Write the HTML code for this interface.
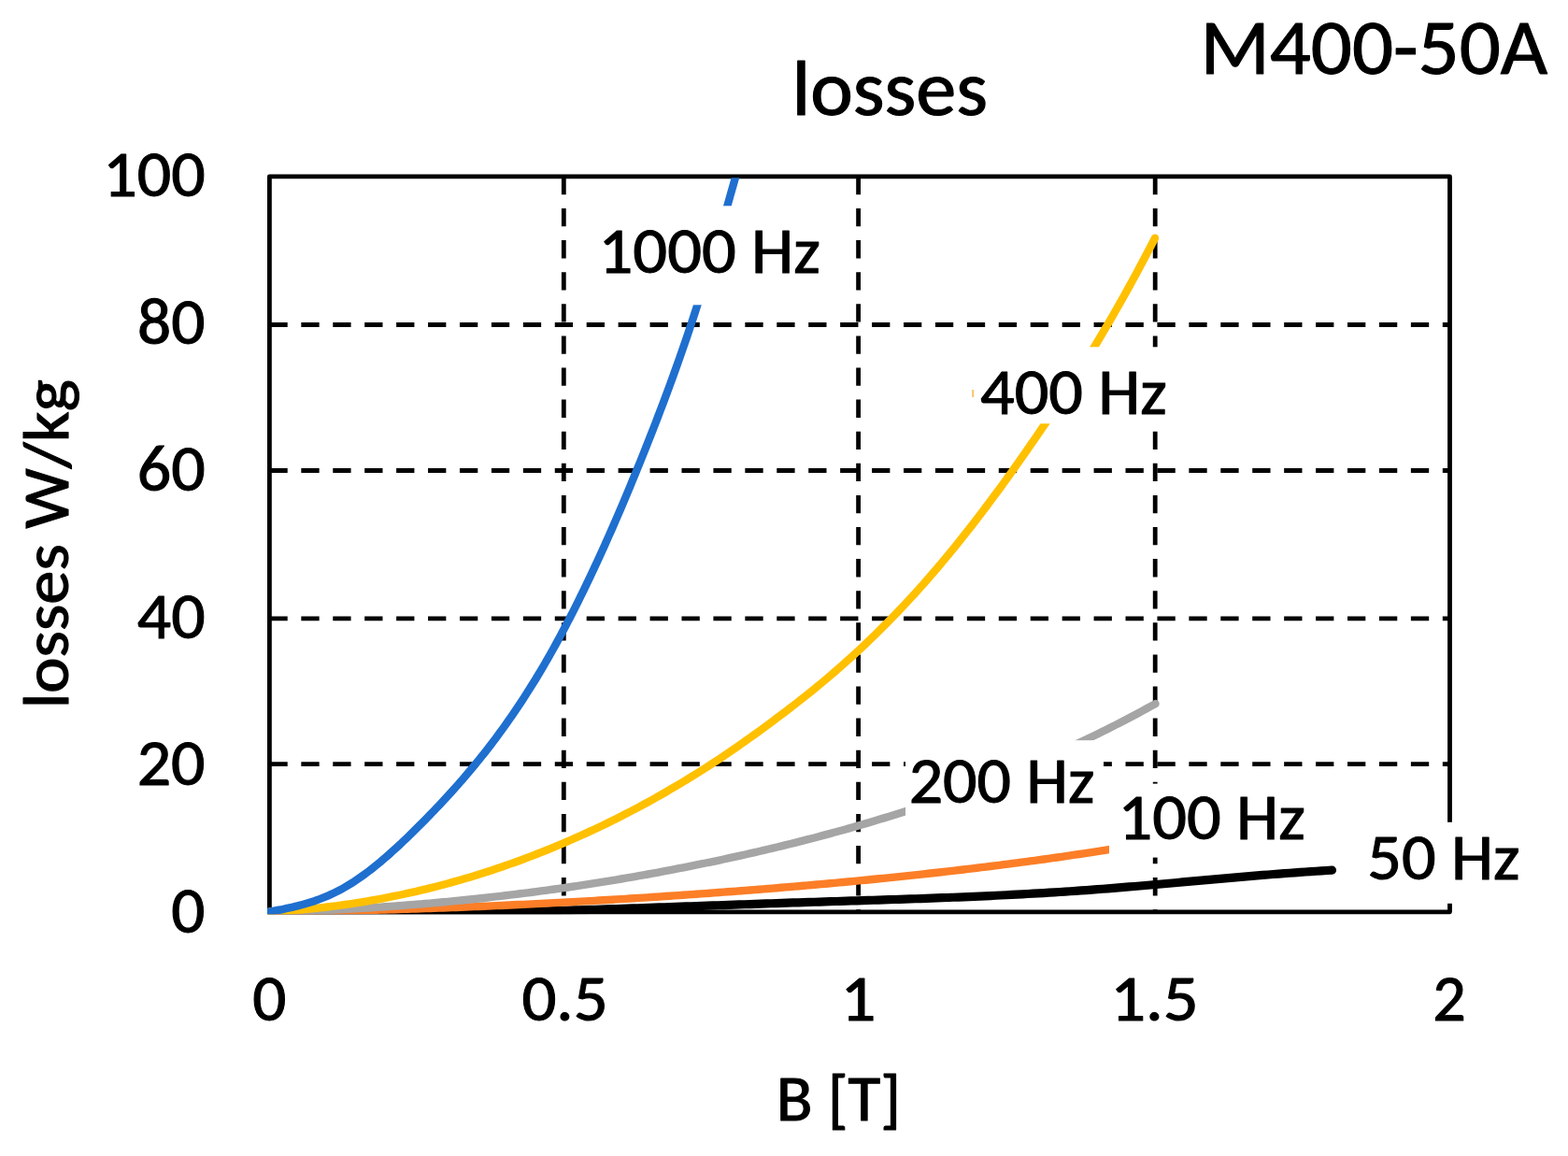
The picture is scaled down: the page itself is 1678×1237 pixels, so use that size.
<!DOCTYPE html>
<html><head><meta charset="utf-8"><title>losses</title>
<style>
html,body{margin:0;padding:0;background:#fff;width:1678px;height:1237px;overflow:hidden}
svg{display:block}
text{font-family:Carlito, "Liberation Sans", sans-serif;fill:#000;stroke:#000;stroke-width:1.1px;stroke-linejoin:round}
.g{stroke:#000;stroke-width:4.8;stroke-dasharray:19.3 14.63;fill:none}
.gv{stroke-dasharray:19.3 14.8}
</style></head><body>
<svg width="1678" height="1237" viewBox="0 0 1678 1237">
<defs><clipPath id="pa"><rect x="286" y="190.2" width="1270" height="788.1"/></clipPath></defs>
<rect width="1678" height="1237" fill="#fff"/>
<line x1="288.4" y1="817.6" x2="1551.5" y2="817.6" class="g"/>
<line x1="288.4" y1="661.9" x2="1551.5" y2="661.9" class="g"/>
<line x1="288.4" y1="503.5" x2="1551.5" y2="503.5" class="g"/>
<line x1="288.4" y1="347.5" x2="1551.5" y2="347.5" class="g"/>
<line x1="603.3" y1="188.9" x2="603.3" y2="975.8" class="g gv"/>
<line x1="918.6" y1="188.9" x2="918.6" y2="975.8" class="g gv"/>
<line x1="1236.2" y1="188.9" x2="1236.2" y2="975.8" class="g gv"/>
<rect x="288.4" y="188.9" width="1263.1" height="786.9" fill="none" stroke="#000" stroke-width="4.8" stroke-linejoin="round"/>
<g clip-path="url(#pa)" fill="none" stroke-width="8.6" stroke-linecap="round" stroke-linejoin="round">
<path d="M288.40,975.80 L294.11,975.80 L299.83,975.80 L305.54,975.80 L311.26,975.80 L316.97,975.80 L322.68,975.80 L328.40,975.80 L334.11,975.80 L339.83,975.80 L345.54,975.80 L351.25,975.80 L356.97,975.80 L362.68,975.80 L368.40,975.80 L374.11,975.80 L379.83,975.80 L385.54,975.80 L391.25,975.80 L396.97,975.80 L402.68,975.80 L408.40,975.80 L414.11,975.80 L419.82,975.80 L425.54,975.80 L431.25,975.80 L436.97,975.80 L442.68,975.80 L448.39,975.80 L454.11,975.80 L459.82,975.80 L465.54,975.80 L471.25,975.80 L476.96,975.80 L482.68,975.80 L488.39,975.80 L494.11,975.80 L499.82,975.80 L505.53,975.80 L511.25,975.80 L516.96,975.80 L522.68,975.80 L528.39,975.80 L534.11,975.80 L539.82,975.80 L545.53,975.72 L551.25,975.59 L556.96,975.46 L562.68,975.32 L568.39,975.18 L574.10,975.03 L579.82,974.89 L585.53,974.73 L591.25,974.58 L596.96,974.42 L602.67,974.26 L608.39,974.10 L614.10,973.93 L619.82,973.76 L625.53,973.59 L631.24,973.41 L636.96,973.24 L642.67,973.06 L648.39,972.88 L654.10,972.69 L659.81,972.51 L665.53,972.32 L671.24,972.13 L676.96,971.94 L682.67,971.75 L688.38,971.55 L694.10,971.36 L699.81,971.16 L705.53,970.96 L711.24,970.76 L716.96,970.57 L722.67,970.37 L728.38,970.16 L734.10,969.96 L739.81,969.76 L745.53,969.56 L751.24,969.36 L756.95,969.15 L762.67,968.95 L768.38,968.75 L774.10,968.54 L779.81,968.34 L785.52,968.14 L791.24,967.94 L796.95,967.74 L802.67,967.54 L808.38,967.34 L814.09,967.14 L819.81,966.94 L825.52,966.75 L831.24,966.55 L836.95,966.36 L842.66,966.17 L848.38,965.97 L854.09,965.79 L859.81,965.60 L865.52,965.41 L871.24,965.23 L876.95,965.05 L882.66,964.87 L888.38,964.69 L894.09,964.51 L899.81,964.33 L905.52,964.15 L911.23,963.97 L916.95,963.79 L922.66,963.61 L928.38,963.43 L934.09,963.25 L939.80,963.07 L945.52,962.88 L951.23,962.70 L956.95,962.51 L962.66,962.32 L968.37,962.13 L974.09,961.94 L979.80,961.74 L985.52,961.54 L991.23,961.33 L996.94,961.13 L1002.66,960.92 L1008.37,960.70 L1014.09,960.48 L1019.80,960.26 L1025.52,960.03 L1031.23,959.80 L1036.94,959.56 L1042.66,959.32 L1048.37,959.07 L1054.09,958.81 L1059.80,958.55 L1065.51,958.28 L1071.23,958.01 L1076.94,957.73 L1082.66,957.44 L1088.37,957.15 L1094.08,956.84 L1099.80,956.53 L1105.51,956.21 L1111.23,955.89 L1116.94,955.55 L1122.65,955.21 L1128.37,954.86 L1134.08,954.49 L1139.80,954.12 L1145.51,953.74 L1151.22,953.35 L1156.94,952.95 L1162.65,952.54 L1168.37,952.12 L1174.08,951.69 L1179.79,951.25 L1185.51,950.80 L1191.22,950.34 L1196.94,949.88 L1202.65,949.41 L1208.37,948.94 L1214.08,948.46 L1219.79,947.97 L1225.51,947.48 L1231.22,946.98 L1236.94,946.48 L1242.65,945.98 L1248.36,945.47 L1254.08,944.97 L1259.79,944.46 L1265.51,943.95 L1271.22,943.43 L1276.93,942.92 L1282.65,942.41 L1288.36,941.90 L1294.08,941.39 L1299.79,940.88 L1305.50,940.37 L1311.22,939.87 L1316.93,939.37 L1322.65,938.87 L1328.36,938.38 L1334.07,937.89 L1339.79,937.40 L1345.50,936.93 L1351.22,936.45 L1356.93,935.99 L1362.65,935.53 L1368.36,935.09 L1374.07,934.65 L1379.79,934.22 L1385.50,933.80 L1391.22,933.39 L1396.93,932.99 L1402.64,932.60 L1408.36,932.23 L1414.07,931.87 L1419.79,931.52 L1425.50,931.19" stroke="#000000" stroke-width="9.2"/>
<path d="M288.40,975.80 L293.16,975.75 L297.92,975.70 L302.69,975.64 L307.45,975.58 L312.21,975.52 L316.97,975.46 L321.73,975.39 L326.49,975.31 L331.26,975.24 L336.02,975.16 L340.78,975.08 L345.54,974.99 L350.30,974.90 L355.07,974.81 L359.83,974.71 L364.59,974.62 L369.35,974.51 L374.11,974.41 L378.87,974.30 L383.64,974.19 L388.40,974.07 L393.16,973.96 L397.92,973.83 L402.68,973.71 L407.45,973.58 L412.21,973.45 L416.97,973.32 L421.73,973.18 L426.49,973.04 L431.25,972.90 L436.02,972.75 L440.78,972.60 L445.54,972.45 L450.30,972.29 L455.06,972.13 L459.83,971.97 L464.59,971.80 L469.35,971.63 L474.11,971.46 L478.87,971.29 L483.63,971.11 L488.40,970.93 L493.16,970.74 L497.92,970.56 L502.68,970.37 L507.44,970.17 L512.21,969.98 L516.97,969.78 L521.73,969.58 L526.49,969.37 L531.25,969.16 L536.01,968.95 L540.78,968.74 L545.54,968.52 L550.30,968.30 L555.06,968.07 L559.82,967.85 L564.58,967.62 L569.35,967.39 L574.11,967.15 L578.87,966.91 L583.63,966.67 L588.39,966.43 L593.16,966.18 L597.92,965.93 L602.68,965.68 L607.44,965.42 L612.20,965.16 L616.96,964.90 L621.73,964.63 L626.49,964.37 L631.25,964.10 L636.01,963.82 L640.77,963.55 L645.54,963.27 L650.30,962.99 L655.06,962.70 L659.82,962.41 L664.58,962.12 L669.34,961.83 L674.11,961.53 L678.87,961.23 L683.63,960.93 L688.39,960.63 L693.15,960.32 L697.92,960.01 L702.68,959.70 L707.44,959.38 L712.20,959.06 L716.96,958.74 L721.72,958.42 L726.49,958.09 L731.25,957.76 L736.01,957.43 L740.77,957.09 L745.53,956.75 L750.30,956.41 L755.06,956.07 L759.82,955.72 L764.58,955.37 L769.34,955.02 L774.10,954.67 L778.87,954.31 L783.63,953.95 L788.39,953.59 L793.15,953.22 L797.91,952.86 L802.68,952.48 L807.44,952.11 L812.20,951.73 L816.96,951.35 L821.72,950.97 L826.48,950.59 L831.25,950.20 L836.01,949.81 L840.77,949.41 L845.53,949.01 L850.29,948.61 L855.06,948.20 L859.82,947.80 L864.58,947.38 L869.34,946.97 L874.10,946.55 L878.86,946.13 L883.63,945.70 L888.39,945.27 L893.15,944.84 L897.91,944.40 L902.67,943.96 L907.44,943.52 L912.20,943.07 L916.96,942.61 L921.72,942.16 L926.48,941.70 L931.24,941.23 L936.01,940.76 L940.77,940.29 L945.53,939.81 L950.29,939.33 L955.05,938.85 L959.82,938.36 L964.58,937.86 L969.34,937.36 L974.10,936.86 L978.86,936.35 L983.62,935.84 L988.39,935.32 L993.15,934.80 L997.91,934.28 L1002.67,933.75 L1007.43,933.21 L1012.19,932.67 L1016.96,932.13 L1021.72,931.58 L1026.48,931.02 L1031.24,930.46 L1036.00,929.90 L1040.77,929.33 L1045.53,928.75 L1050.29,928.17 L1055.05,927.58 L1059.81,926.99 L1064.57,926.40 L1069.34,925.80 L1074.10,925.19 L1078.86,924.58 L1083.62,923.96 L1088.38,923.34 L1093.15,922.71 L1097.91,922.07 L1102.67,921.43 L1107.43,920.79 L1112.19,920.13 L1116.95,919.48 L1121.72,918.81 L1126.48,918.14 L1131.24,917.47 L1136.00,916.79 L1140.76,916.10 L1145.53,915.41 L1150.29,914.71 L1155.05,914.00 L1159.81,913.29 L1164.57,912.58 L1169.33,911.85 L1174.10,911.12 L1178.86,910.38 L1183.62,909.64 L1188.38,908.89 L1193.14,908.14 L1197.91,907.37 L1202.67,906.60 L1207.43,905.83 L1212.19,905.05 L1216.95,904.26 L1221.71,903.46 L1226.48,902.66 L1231.24,901.85 L1236.00,901.03" stroke="#FC7E27" stroke-width="8.4"/>
<path d="M288.40,975.80 L293.16,975.69 L297.93,975.58 L302.69,975.46 L307.46,975.32 L312.22,975.18 L316.99,975.03 L321.75,974.88 L326.51,974.71 L331.28,974.54 L336.04,974.35 L340.81,974.16 L345.57,973.96 L350.34,973.75 L355.10,973.54 L359.86,973.31 L364.63,973.08 L369.39,972.83 L374.16,972.58 L378.92,972.32 L383.69,972.05 L388.45,971.78 L393.22,971.49 L397.98,971.20 L402.74,970.89 L407.51,970.58 L412.27,970.26 L417.04,969.93 L421.80,969.59 L426.57,969.25 L431.33,968.89 L436.09,968.53 L440.86,968.15 L445.62,967.77 L450.39,967.38 L455.15,966.98 L459.92,966.57 L464.68,966.16 L469.44,965.73 L474.21,965.29 L478.97,964.85 L483.74,964.40 L488.50,963.94 L493.27,963.47 L498.03,962.99 L502.79,962.50 L507.56,962.00 L512.32,961.50 L517.09,960.98 L521.85,960.46 L526.62,959.92 L531.38,959.38 L536.14,958.83 L540.91,958.27 L545.67,957.70 L550.44,957.12 L555.20,956.53 L559.97,955.94 L564.73,955.33 L569.49,954.72 L574.26,954.09 L579.02,953.46 L583.79,952.82 L588.55,952.17 L593.32,951.51 L598.08,950.84 L602.85,950.16 L607.61,949.47 L612.37,948.77 L617.14,948.07 L621.90,947.35 L626.67,946.63 L631.43,945.89 L636.20,945.15 L640.96,944.40 L645.72,943.64 L650.49,942.86 L655.25,942.08 L660.02,941.29 L664.78,940.49 L669.55,939.68 L674.31,938.87 L679.07,938.04 L683.84,937.20 L688.60,936.36 L693.37,935.50 L698.13,934.64 L702.90,933.76 L707.66,932.88 L712.42,931.98 L717.19,931.08 L721.95,930.17 L726.72,929.24 L731.48,928.31 L736.25,927.37 L741.01,926.42 L745.77,925.46 L750.54,924.49 L755.30,923.51 L760.07,922.52 L764.83,921.52 L769.60,920.52 L774.36,919.50 L779.13,918.47 L783.89,917.43 L788.65,916.39 L793.42,915.33 L798.18,914.26 L802.95,913.18 L807.71,912.10 L812.48,911.00 L817.24,909.89 L822.00,908.77 L826.77,907.64 L831.53,906.50 L836.30,905.34 L841.06,904.18 L845.83,903.00 L850.59,901.82 L855.35,900.62 L860.12,899.40 L864.88,898.18 L869.65,896.94 L874.41,895.70 L879.18,894.43 L883.94,893.16 L888.70,891.87 L893.47,890.57 L898.23,889.26 L903.00,887.93 L907.76,886.59 L912.53,885.24 L917.29,883.87 L922.05,882.49 L926.82,881.10 L931.58,879.69 L936.35,878.26 L941.11,876.82 L945.88,875.37 L950.64,873.90 L955.41,872.42 L960.17,870.92 L964.93,869.41 L969.70,867.88 L974.46,866.33 L979.23,864.77 L983.99,863.20 L988.76,861.61 L993.52,860.00 L998.28,858.37 L1003.05,856.73 L1007.81,855.07 L1012.58,853.40 L1017.34,851.71 L1022.11,850.00 L1026.87,848.27 L1031.63,846.53 L1036.40,844.77 L1041.16,842.99 L1045.93,841.20 L1050.69,839.38 L1055.46,837.55 L1060.22,835.70 L1064.98,833.83 L1069.75,831.94 L1074.51,830.04 L1079.28,828.11 L1084.04,826.17 L1088.81,824.21 L1093.57,822.23 L1098.33,820.22 L1103.10,818.20 L1107.86,816.16 L1112.63,814.10 L1117.39,812.02 L1122.16,809.92 L1126.92,807.80 L1131.68,805.66 L1136.45,803.49 L1141.21,801.31 L1145.98,799.11 L1150.74,796.88 L1155.51,794.64 L1160.27,792.37 L1165.04,790.08 L1169.80,787.77 L1174.56,785.44 L1179.33,783.08 L1184.09,780.71 L1188.86,778.31 L1193.62,775.88 L1198.39,773.44 L1203.15,770.97 L1207.91,768.49 L1212.68,765.97 L1217.44,763.44 L1222.21,760.88 L1226.97,758.30 L1231.74,755.69 L1236.50,753.06" stroke="#A5A5A5" stroke-width="8.4"/>
<path d="M288.40,975.80 L293.16,975.54 L297.92,975.26 L302.69,974.95 L307.45,974.62 L312.21,974.27 L316.97,973.88 L321.73,973.48 L326.49,973.05 L331.26,972.59 L336.02,972.10 L340.78,971.60 L345.54,971.06 L350.30,970.50 L355.07,969.92 L359.83,969.31 L364.59,968.67 L369.35,968.01 L374.11,967.32 L378.87,966.60 L383.64,965.86 L388.40,965.09 L393.16,964.30 L397.92,963.48 L402.68,962.63 L407.45,961.76 L412.21,960.86 L416.97,959.94 L421.73,958.98 L426.49,958.00 L431.25,957.00 L436.02,955.97 L440.78,954.91 L445.54,953.82 L450.30,952.71 L455.06,951.57 L459.83,950.40 L464.59,949.20 L469.35,947.98 L474.11,946.73 L478.87,945.45 L483.63,944.15 L488.40,942.82 L493.16,941.46 L497.92,940.07 L502.68,938.65 L507.44,937.21 L512.21,935.74 L516.97,934.24 L521.73,932.71 L526.49,931.16 L531.25,929.57 L536.01,927.96 L540.78,926.32 L545.54,924.65 L550.30,922.95 L555.06,921.23 L559.82,919.47 L564.58,917.69 L569.35,915.88 L574.11,914.04 L578.87,912.17 L583.63,910.27 L588.39,908.34 L593.16,906.39 L597.92,904.40 L602.68,902.39 L607.44,900.34 L612.20,898.27 L616.96,896.17 L621.73,894.03 L626.49,891.87 L631.25,889.68 L636.01,887.46 L640.77,885.21 L645.54,882.93 L650.30,880.62 L655.06,878.28 L659.82,875.91 L664.58,873.50 L669.34,871.07 L674.11,868.61 L678.87,866.11 L683.63,863.59 L688.39,861.03 L693.15,858.44 L697.92,855.82 L702.68,853.16 L707.44,850.47 L712.20,847.75 L716.96,844.99 L721.72,842.20 L726.49,839.38 L731.25,836.52 L736.01,833.63 L740.77,830.70 L745.53,827.74 L750.30,824.74 L755.06,821.70 L759.82,818.63 L764.58,815.53 L769.34,812.38 L774.10,809.20 L778.87,805.98 L783.63,802.73 L788.39,799.44 L793.15,796.12 L797.91,792.77 L802.68,789.39 L807.44,785.97 L812.20,782.53 L816.96,779.06 L821.72,775.56 L826.48,772.03 L831.25,768.48 L836.01,764.90 L840.77,761.29 L845.53,757.66 L850.29,753.99 L855.06,750.28 L859.82,746.54 L864.58,742.75 L869.34,738.92 L874.10,735.05 L878.86,731.13 L883.63,727.15 L888.39,723.12 L893.15,719.03 L897.91,714.89 L902.67,710.69 L907.44,706.43 L912.20,702.11 L916.96,697.74 L921.72,693.31 L926.48,688.82 L931.24,684.27 L936.01,679.67 L940.77,675.01 L945.53,670.28 L950.29,665.49 L955.05,660.64 L959.82,655.72 L964.58,650.72 L969.34,645.66 L974.10,640.52 L978.86,635.32 L983.62,630.04 L988.39,624.69 L993.15,619.27 L997.91,613.78 L1002.67,608.22 L1007.43,602.59 L1012.19,596.90 L1016.96,591.14 L1021.72,585.31 L1026.48,579.41 L1031.24,573.44 L1036.00,567.41 L1040.77,561.32 L1045.53,555.16 L1050.29,548.93 L1055.05,542.64 L1059.81,536.29 L1064.57,529.87 L1069.34,523.39 L1074.10,516.85 L1078.86,510.26 L1083.62,503.60 L1088.38,496.89 L1093.15,490.14 L1097.91,483.33 L1102.67,476.47 L1107.43,469.57 L1112.19,462.61 L1116.95,455.60 L1121.72,448.54 L1126.48,441.41 L1131.24,434.22 L1136.00,426.97 L1140.76,419.65 L1145.53,412.26 L1150.29,404.79 L1155.05,397.24 L1159.81,389.62 L1164.57,381.91 L1169.33,374.12 L1174.10,366.24 L1178.86,358.26 L1183.62,350.19 L1188.38,342.03 L1193.14,333.77 L1197.91,325.41 L1202.67,316.95 L1207.43,308.38 L1212.19,299.72 L1216.95,290.94 L1221.71,282.05 L1226.48,273.05 L1231.24,263.94 L1236.00,254.72" stroke="#FFC000" stroke-width="8.4"/>
<path d="M288.40,975.60 L290.92,975.15 L293.44,974.70 L295.96,974.23 L298.48,973.75 L301.00,973.26 L303.52,972.76 L306.04,972.23 L308.56,971.69 L311.09,971.13 L313.61,970.55 L316.13,969.95 L318.65,969.32 L321.17,968.67 L323.69,967.99 L326.21,967.28 L328.73,966.55 L331.25,965.78 L333.77,964.97 L336.29,964.14 L338.81,963.26 L341.33,962.35 L343.85,961.40 L346.37,960.41 L348.89,959.38 L351.42,958.30 L353.94,957.18 L356.46,956.01 L358.98,954.79 L361.50,953.53 L364.02,952.21 L366.54,950.84 L369.06,949.42 L371.58,947.94 L374.10,946.41 L376.62,944.83 L379.14,943.21 L381.66,941.53 L384.18,939.81 L386.70,938.05 L389.22,936.24 L391.74,934.38 L394.27,932.49 L396.79,930.55 L399.31,928.58 L401.83,926.57 L404.35,924.51 L406.87,922.43 L409.39,920.30 L411.91,918.15 L414.43,915.96 L416.95,913.74 L419.47,911.49 L421.99,909.21 L424.51,906.90 L427.03,904.57 L429.55,902.21 L432.07,899.82 L434.59,897.42 L437.12,894.99 L439.64,892.53 L442.16,890.06 L444.68,887.57 L447.20,885.07 L449.72,882.54 L452.24,880.00 L454.76,877.45 L457.28,874.88 L459.80,872.29 L462.32,869.69 L464.84,867.07 L467.36,864.43 L469.88,861.77 L472.40,859.09 L474.92,856.39 L477.45,853.67 L479.97,850.92 L482.49,848.15 L485.01,845.36 L487.53,842.54 L490.05,839.70 L492.57,836.83 L495.09,833.94 L497.61,831.02 L500.13,828.06 L502.65,825.08 L505.17,822.07 L507.69,819.03 L510.21,815.96 L512.73,812.85 L515.25,809.72 L517.77,806.54 L520.30,803.34 L522.82,800.10 L525.34,796.82 L527.86,793.50 L530.38,790.15 L532.90,786.76 L535.42,783.33 L537.94,779.86 L540.46,776.35 L542.98,772.80 L545.50,769.21 L548.02,765.57 L550.54,761.89 L553.06,758.17 L555.58,754.40 L558.10,750.58 L560.63,746.72 L563.15,742.81 L565.67,738.86 L568.19,734.85 L570.71,730.80 L573.23,726.69 L575.75,722.53 L578.27,718.33 L580.79,714.06 L583.31,709.75 L585.83,705.38 L588.35,700.96 L590.87,696.48 L593.39,691.95 L595.91,687.37 L598.43,682.74 L600.95,678.05 L603.48,673.31 L606.00,668.52 L608.52,663.68 L611.04,658.78 L613.56,653.84 L616.08,648.85 L618.60,643.81 L621.12,638.71 L623.64,633.57 L626.16,628.39 L628.68,623.15 L631.20,617.86 L633.72,612.53 L636.24,607.15 L638.76,601.72 L641.28,596.25 L643.81,590.73 L646.33,585.17 L648.85,579.56 L651.37,573.90 L653.89,568.20 L656.41,562.46 L658.93,556.67 L661.45,550.84 L663.97,544.97 L666.49,539.05 L669.01,533.09 L671.53,527.09 L674.05,521.05 L676.57,514.97 L679.09,508.84 L681.61,502.67 L684.13,496.47 L686.66,490.22 L689.18,483.94 L691.70,477.61 L694.22,471.25 L696.74,464.85 L699.26,458.41 L701.78,451.92 L704.30,445.38 L706.82,438.80 L709.34,432.15 L711.86,425.46 L714.38,418.70 L716.90,411.87 L719.42,404.98 L721.94,398.02 L724.46,390.98 L726.98,383.87 L729.51,376.68 L732.03,369.40 L734.55,362.04 L737.07,354.58 L739.59,347.03 L742.11,339.39 L744.63,331.65 L747.15,323.82 L749.67,315.91 L752.19,307.90 L754.71,299.81 L757.23,291.64 L759.75,283.39 L762.27,275.06 L764.79,266.66 L767.31,258.18 L769.84,249.64 L772.36,241.03 L774.88,232.35 L777.40,223.61 L779.92,214.82 L782.44,205.96 L784.96,197.05 L787.48,188.09 L790.00,179.08" stroke="#1F6FCF" stroke-width="8.4"/>
</g>
<rect x="630" y="220.3" width="265" height="106" fill="#fff"/>
<rect x="1043" y="371.3" width="219" height="82" fill="#fff"/>
<rect x="969" y="792.2" width="212" height="90" fill="#fff"/>
<rect x="1187" y="838.6" width="223" height="79" fill="#fff"/>
<rect x="1440" y="879.8" width="220" height="87" fill="#fff"/>
<rect x="1040.2" y="417" width="2" height="8" fill="#F7B546" opacity="0.8"/>
<text x="847.4" y="122.6" font-size="84.5" textLength="209.7" lengthAdjust="spacingAndGlyphs">losses</text>
<text x="1284.4" y="78.6" font-size="85" textLength="371.7" lengthAdjust="spacingAndGlyphs">M400-50A</text>
<text x="110.3" y="210.4" font-size="70.5" textLength="109.3" lengthAdjust="spacingAndGlyphs">100</text>
<text x="147.0" y="368.4" font-size="70.5" textLength="72.4" lengthAdjust="spacingAndGlyphs">80</text>
<text x="146.8" y="525.0" font-size="70.5" textLength="72.9" lengthAdjust="spacingAndGlyphs">60</text>
<text x="146.8" y="683.0" font-size="70.5" textLength="72.8" lengthAdjust="spacingAndGlyphs">40</text>
<text x="146.7" y="839.5" font-size="70.5" textLength="72.8" lengthAdjust="spacingAndGlyphs">20</text>
<text x="183.3" y="997.5" font-size="70.5" textLength="36.1" lengthAdjust="spacingAndGlyphs">0</text>
<text x="270.2" y="1091.7" font-size="70.5" textLength="36.1" lengthAdjust="spacingAndGlyphs">0</text>
<text x="558.4" y="1092.0" font-size="70.5" textLength="92.3" lengthAdjust="spacingAndGlyphs">0.5</text>
<text x="899.5" y="1092.3" font-size="70.5" textLength="37.9" lengthAdjust="spacingAndGlyphs">1</text>
<text x="1188.2" y="1092.3" font-size="70.5" textLength="94.5" lengthAdjust="spacingAndGlyphs">1.5</text>
<text x="1533.2" y="1092.3" font-size="70.5" textLength="35.5" lengthAdjust="spacingAndGlyphs">2</text>
<text x="830.8" y="1199.3" font-size="70.5" textLength="133.4" lengthAdjust="spacingAndGlyphs">B [T]</text>
<text x="640.6" y="291.7" font-size="70.5" textLength="237.4" lengthAdjust="spacingAndGlyphs">1000 Hz</text>
<text x="1049.1" y="442.5" font-size="70.5" textLength="199.6" lengthAdjust="spacingAndGlyphs">400 Hz</text>
<text x="972.7" y="858.7" font-size="70.5" textLength="198.7" lengthAdjust="spacingAndGlyphs">200 Hz</text>
<text x="1196.5" y="897.5" font-size="70.5" textLength="200.3" lengthAdjust="spacingAndGlyphs">100 Hz</text>
<text x="1463.3" y="941.0" font-size="70.5" textLength="163.3" lengthAdjust="spacingAndGlyphs">50 Hz</text>
<text transform="translate(73,758.3) rotate(-90)" x="0" y="0" font-size="70.5" textLength="352.1" lengthAdjust="spacingAndGlyphs">losses W/kg</text>
</svg>
</body></html>
